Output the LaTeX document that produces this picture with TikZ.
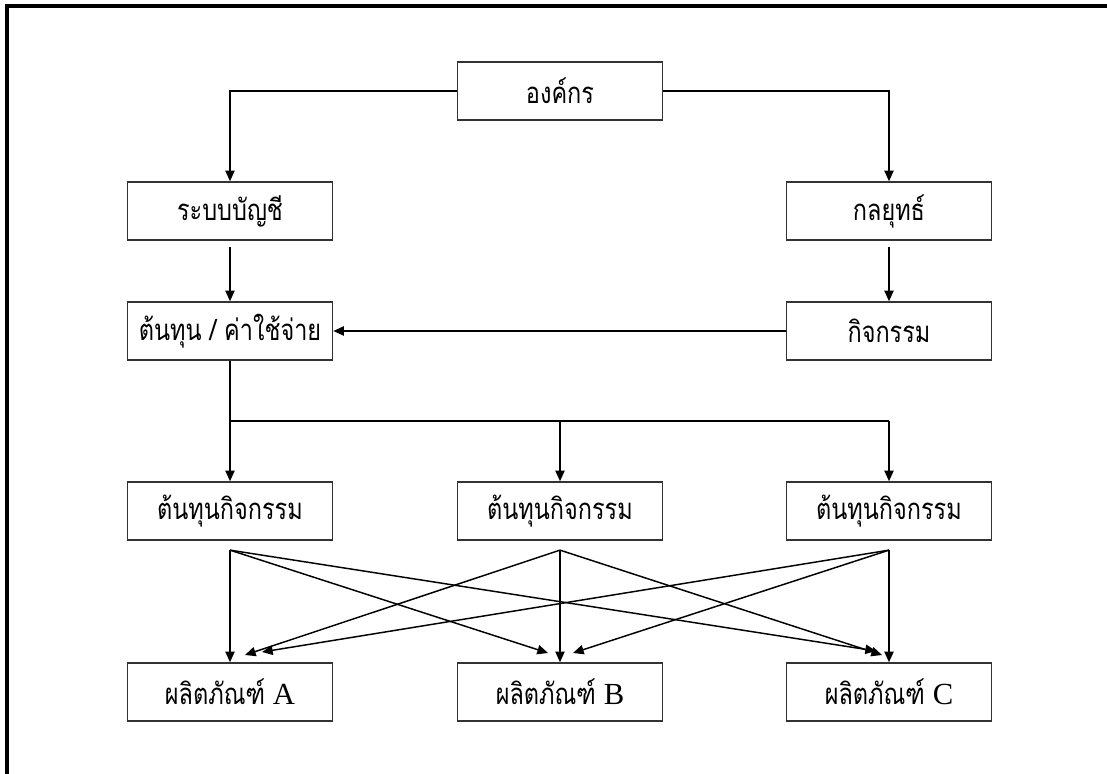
\documentclass[tikz,border=0pt]{standalone}
\usepackage{fontspec}
\setmainfont{Liberation Serif}
\newfontfamily\thaifont[Script=Thai,FakeStretch=0.8]{Loma}
\newfontfamily\latinfont{Liberation Serif}
\newcommand\latinletter[1]{{\latinfont\fontsize{23}{24}\selectfont #1}}
\usetikzlibrary{arrows.meta}
\begin{document}
\begin{tikzpicture}[x=0.75pt,y=-0.75pt,
  box/.style={draw=black!80, line width=1.2pt, minimum width=153.75pt,
    minimum height=43.5pt, inner sep=0pt,
    font=\thaifont\fontsize{22}{24}\selectfont},
  conn/.style={line width=1.1pt, -{Triangle[length=8pt,width=7pt]}},
  wire/.style={line width=1.1pt},
  frame/.style={line width=2.4pt}]
\useasboundingbox (0,0) rectangle (1107,774);
% outer frame (left and top edges)
\draw[frame] (7,774) -- (7,6) -- (1107,6);

% boxes
\node[box] (org)  at (560,91)  {องค์กร};
\node[box] (acc)  at (230,211) {ระบบบัญชี};
\node[box] (str)  at (889,211) {กลยุทธ์};
\node[box] (cost) at (230,331) {ต้นทุน / ค่าใช้จ่าย};
\node[box] (act)  at (889,331) {กิจกรรม};
\node[box] (ac1)  at (230,511) {ต้นทุนกิจกรรม};
\node[box] (ac2)  at (560,511) {ต้นทุนกิจกรรม};
\node[box] (ac3)  at (889,511) {ต้นทุนกิจกรรม};
\node[box] (pa)   at (230,692) {ผลิตภัณฑ์ \latinletter{A}};
\node[box] (pb)   at (560,692) {ผลิตภัณฑ์ \latinletter{B}};
\node[box] (pc)   at (889,692) {ผลิตภัณฑ์ \latinletter{C}};

% upper connectors
\draw[conn] (org.west) -| (acc.north);
\draw[conn] (org.east) -| (str.north);
\draw[conn, shorten <=5pt] (acc.south) -- (cost.north);
\draw[conn, shorten <=5pt] (str.south) -- (act.north);
\draw[conn] (act.west) -- (cost.east);

% distribution bus
\draw[wire] (cost.south) -- ++(0,60) coordinate (bus) -- (bus -| ac3.north);
\draw[conn] (bus) -- (ac1.north);
\draw[conn] (bus -| ac2.north) -- (ac2.north);
\draw[conn] (bus -| ac3.north) -- (ac3.north);

% allocation arrows
\coordinate (s1) at ([yshift=-7pt]ac1.south);
\coordinate (s2) at ([yshift=-7pt]ac2.south);
\coordinate (s3) at ([yshift=-7pt]ac3.south);
\coordinate (tA2) at (245,655);
\coordinate (tA3) at (262,652);
\coordinate (tB1) at (548,653);
\coordinate (tB3) at (573,653);
\coordinate (tC1) at (876,651);
\coordinate (tC2) at (882,655);

\draw[conn] (s1) -- (pa.north);
\draw[conn] (s1) -- (tB1);
\draw[conn] (s1) -- (tC1);
\draw[conn] (s2) -- (tA2);
\draw[conn] (s2) -- (pb.north);
\draw[conn] (s2) -- (tC2);
\draw[conn] (s3) -- (tA3);
\draw[conn] (s3) -- (tB3);
\draw[conn] (s3) -- (pc.north);
\end{tikzpicture}
\end{document}
